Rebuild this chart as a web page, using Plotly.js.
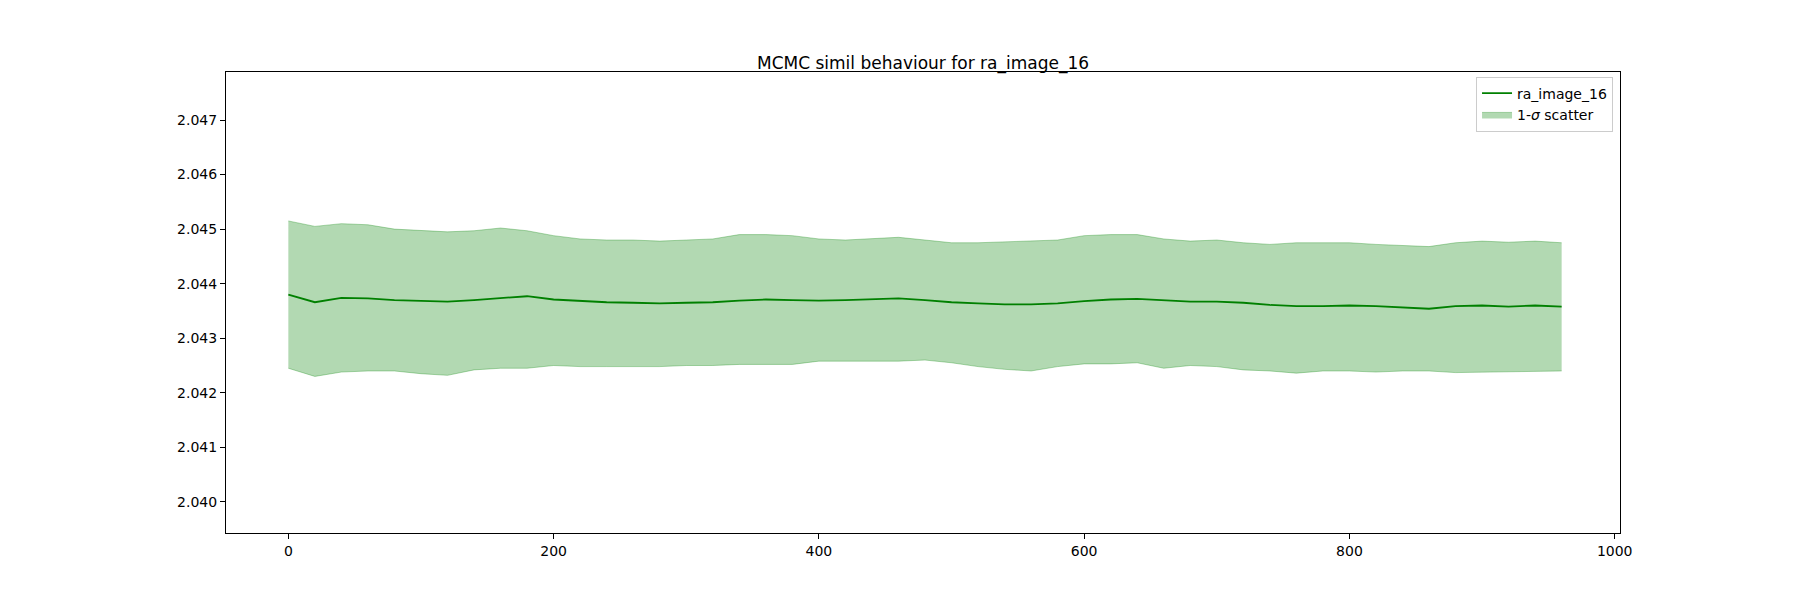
<!DOCTYPE html>
<html>
<head>
<meta charset="utf-8">
<script src="https://cdn.plot.ly/plotly-3.0.1.min.js"></script>
<style>body{margin:0;background:#fff}#chart{width:1800px;height:600px}</style>
</head>
<body>
<div id="chart"></div>
<script>
// step index, sampled every 20 iterations
const steps = [0,20,40,60,80,100,120,140,160,180,200,220,240,260,280,300,320,340,360,380,400,420,440,460,480,500,520,540,560,580,600,620,640,660,680,700,720,740,760,780,800,820,840,860,880,900,920,940,960];

const meanValues = [2.04380,2.04366,2.04374,2.04373,2.04370,2.04368,2.04367,2.04370,2.04374,2.04377,2.04371,2.04368,2.04366,2.04365,2.04364,2.04365,2.04366,2.04369,2.04371,2.04370,2.04369,2.04370,2.04371,2.04373,2.04370,2.04366,2.04364,2.04362,2.04362,2.04364,2.04368,2.04371,2.04372,2.04370,2.04367,2.04367,2.04365,2.04361,2.04359,2.04359,2.04360,2.04359,2.04357,2.04354,2.04359,2.04360,2.04358,2.04360,2.04358];

const upperValues = [2.04515,2.04505,2.04510,2.04508,2.04500,2.04498,2.04495,2.04497,2.04502,2.04497,2.04488,2.04482,2.04480,2.04480,2.04478,2.04480,2.04482,2.04490,2.04490,2.04488,2.04482,2.04480,2.04482,2.04485,2.04480,2.04475,2.04475,2.04477,2.04478,2.04480,2.04488,2.04490,2.04490,2.04482,2.04478,2.04480,2.04475,2.04472,2.04475,2.04475,2.04475,2.04472,2.04470,2.04468,2.04475,2.04478,2.04476,2.04478,2.04475];

const lowerValues = [2.04245,2.04230,2.04238,2.04240,2.04240,2.04235,2.04232,2.04242,2.04245,2.04245,2.04250,2.04248,2.04248,2.04248,2.04248,2.04250,2.04250,2.04252,2.04252,2.04252,2.04258,2.04258,2.04258,2.04258,2.04260,2.04255,2.04248,2.04243,2.04240,2.04248,2.04253,2.04253,2.04255,2.04245,2.04250,2.04248,2.04242,2.04240,2.04236,2.04240,2.04240,2.04238,2.04240,2.04240,2.04237,2.04238,2.04238,2.04240,2.04240];

const yTicks = [2.040,2.041,2.042,2.043,2.044,2.045,2.046,2.047];
const xTicks = [0,200,400,600,800,1000];

const fillColour = "rgba(0,128,0,0.3)";

const data = [
    {x: steps, y: lowerValues, mode: "lines", line: {color: fillColour, width: 1}, showlegend: false, hoverinfo: "skip"},
    {x: steps, y: upperValues, mode: "lines", fill: "tonexty", fillcolor: fillColour,
     line: {color: fillColour, width: 1}, name: "1-<i>σ</i> scatter"},
    {x: steps, y: meanValues, mode: "lines", line: {color: "green", width: 1.8}, name: "ra_image_16"}
];

const axisStyle = {showline: true, mirror: true, linecolor: "black", linewidth: 1, ticks: "outside",
    ticklen: 5, tickcolor: "black", showgrid: false, zeroline: false, tickfont: {size: 14}};

const layout = {
    font: {family: "DejaVu Sans, sans-serif", color: "black"},
    title: {text: "MCMC simil behaviour for ra_image_16", x: 0.5, xref: "paper", y: 0.905, font: {size: 17}},
    margin: {l: 226, r: 180, t: 72, b: 67},
    plot_bgcolor: "white", paper_bgcolor: "white",
    xaxis: {...axisStyle, range: [-47, 1004], tickvals: xTicks},
    yaxis: {...axisStyle, range: [2.03943, 2.04788], tickvals: yTicks, tickformat: ".3f"},
    legend: {x: 0.995, y: 0.99, xanchor: "right", yanchor: "top", traceorder: "reversed",
        bordercolor: "#ccc", borderwidth: 1, font: {size: 14}, bgcolor: "rgba(255,255,255,0.8)"},
    showlegend: true
};

Plotly.newPlot("chart", data, layout, {staticPlot: true});
</script>
</body>
</html>
